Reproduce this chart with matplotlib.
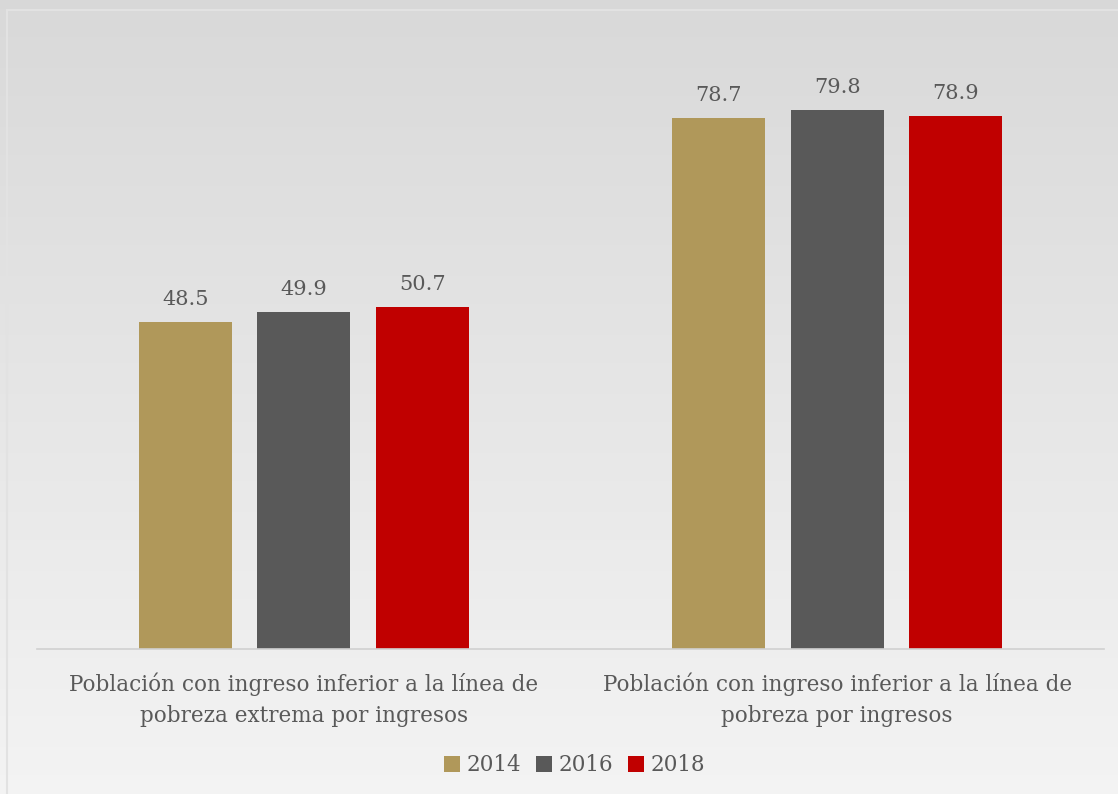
import numpy as np
import matplotlib
matplotlib.use("Agg")
import matplotlib.pyplot as plt
from matplotlib.patches import Patch, Rectangle

categories = ["Población con ingreso inferior a la línea de\npobreza extrema por ingresos",
              "Población con ingreso inferior a la línea de\npobreza por ingresos"]
years = ["2014", "2016", "2018"]
values = {
    "2014": [48.5, 78.7],
    "2016": [49.9, 79.8],
    "2018": [50.7, 78.9],
}
colors = ["#b0985a", "#595959", "#c00000"]
TXT = "#595959"

plt.rcParams["font.family"] = ["DejaVu Serif"]

fig = plt.figure(figsize=(11.18, 7.94), dpi=100)

# gradient background
bg = fig.add_axes([0, 0, 1, 1], zorder=0)
grad = np.linspace(0.85, 0.955, 256).reshape(-1, 1)
bg.imshow(np.dstack([grad] * 3), aspect="auto", extent=[0, 1, 0, 1], origin="upper")
bg.add_patch(Rectangle((7 / 1118, -0.01), 1.02, 1 - 10 / 794 + 0.01, fill=False,
                       edgecolor="#e2e2e2", lw=1.5, transform=bg.transAxes))
bg.set_xlim(0, 1); bg.set_ylim(0, 1)
bg.set_axis_off()

ax = fig.add_axes([0.033, 0.1826, 0.9545, 0.7654], zorder=1)
ax.patch.set_alpha(0)

x = np.arange(len(categories))
w = 0.174
off = 0.222
for i, (yr, c) in enumerate(zip(years, colors)):
    xs = x + (i - 1) * off
    ax.bar(xs, values[yr], w, color=c, zorder=2)
    for xi, v in zip(xs, values[yr]):
        ax.text(xi, v + 1.9, f"{v:.1f}", ha="center", va="bottom", fontsize=15, color=TXT)

ax.set_xlim(-0.5, 1.5)
ax.set_ylim(0, 90)
ax.set_yticks([])
ax.set_xticks(x)
ax.set_xticklabels(categories, fontsize=15.5, color=TXT, linespacing=1.5)
ax.tick_params(axis="x", length=0, pad=17)
for s in ["top", "right", "left"]:
    ax.spines[s].set_visible(False)
ax.spines["bottom"].set_color("#d0d0d0")
ax.spines["bottom"].set_linewidth(1.2)

handles = [Patch(facecolor=c, label=yr) for yr, c in zip(years, colors)]
fig.legend(handles=handles, loc="center", bbox_to_anchor=(0.514, 0.036), ncol=3, frameon=False,
           fontsize=15.5, labelcolor=TXT, handlelength=0.75, handleheight=0.75,
           handletextpad=0.3, columnspacing=0.7)

fig.savefig("out.png", dpi=100)
